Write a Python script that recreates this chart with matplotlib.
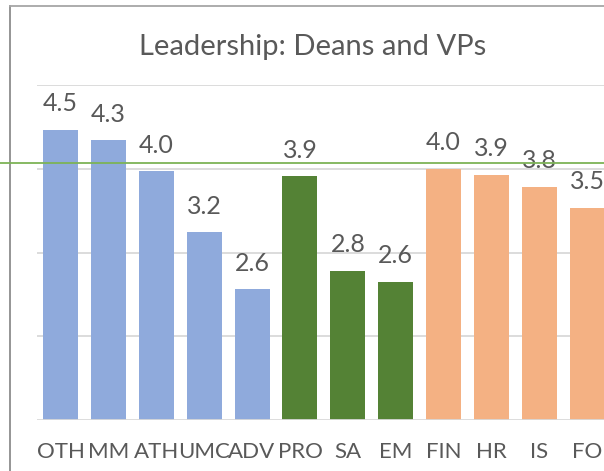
import matplotlib
matplotlib.use('Agg')
import matplotlib.pyplot as plt
import matplotlib.transforms as mtransforms
from matplotlib.lines import Line2D

BLUE   = "#8FAADC"
GREEN  = "#548235"
ORANGE = "#F4B183"
TEXT   = "#595959"
GRID   = "#D9D9D9"

categories = ["OTH", "MM", "ATH", "UMC", "ADV", "PRO", "SA", "EM", "FIN", "HR", "IS", "FO"]
values     = [4.46, 4.34, 3.97, 3.24, 2.56, 3.91, 2.78, 2.65, 4.00, 3.93, 3.78, 3.53]
labels     = ["4.5", "4.3", "4.0", "3.2", "2.6", "3.9", "2.8", "2.6", "4.0", "3.9", "3.8", "3.5"]
groups     = ["a"] * 5 + ["b"] * 3 + ["c"] * 4
ref_value  = 4.07

group_colors = {"a": BLUE, "b": GREEN, "c": ORANGE}

plt.rcParams['font.family'] = ['Lato', 'DejaVu Sans']

W, H = 604, 471
fig = plt.figure(figsize=(W / 100, H / 100), dpi=100)
fig.patch.set_facecolor('white')

# category slot is ~47.9px wide, first slot starts at x=36.5 (chart is cut at the right)
slot = 47.9
x0 = 36.5
ax = fig.add_axes([x0 / W, 1 - 420 / H, (W - x0) / W, (420 - 85) / H])
ax.set_xlim(-0.5, (W - x0) / slot - 0.5)
ax.set_ylim(1, 5)

xs = list(range(len(categories)))
cols = [group_colors[g] for g in groups]
ax.bar(xs, [v - 1 for v in values], bottom=1, width=0.73, color=cols, zorder=3)

for x, v, lab in zip(xs, values, labels):
    ax.annotate(lab, (x, v), xytext=(0, 13.5), textcoords='offset points',
                ha='center', va='baseline', fontsize=18, color=TEXT, zorder=5,
                annotation_clip=False)

for y in [2, 3, 4, 5]:
    ax.axhline(y, color=GRID, lw=1.3, zorder=1)
ax.axhline(1, color=GRID, lw=2, zorder=4)

ax.set_xticks(xs)
ax.set_xticklabels(categories, fontsize=16, color=TEXT)
ax.tick_params(axis='x', length=0, pad=16)
ax.set_yticks([])
for s in ax.spines.values():
    s.set_visible(False)

# reference line across the whole picture
tr = mtransforms.blended_transform_factory(fig.transFigure, ax.transData)
fig.add_artist(Line2D([0, 1], [ref_value, ref_value], transform=tr,
                      color="#7DB356", lw=1.3, zorder=10))

# chart frame (left and top edges)
fig.add_artist(Line2D([9.5 / W, 9.5 / W], [0, 1 - 5.5 / H], color="#8C8C8C", lw=1.3))
fig.add_artist(Line2D([9.5 / W, 1], [1 - 5.5 / H, 1 - 5.5 / H], color="#A6A6A6", lw=1.3))

fig.text(313 / W, 1 - 55 / H, "Leadership: Deans and VPs", ha='center', va='baseline',
         fontsize=21, color=TEXT)

fig.savefig("out.png", dpi=100, facecolor='white')
